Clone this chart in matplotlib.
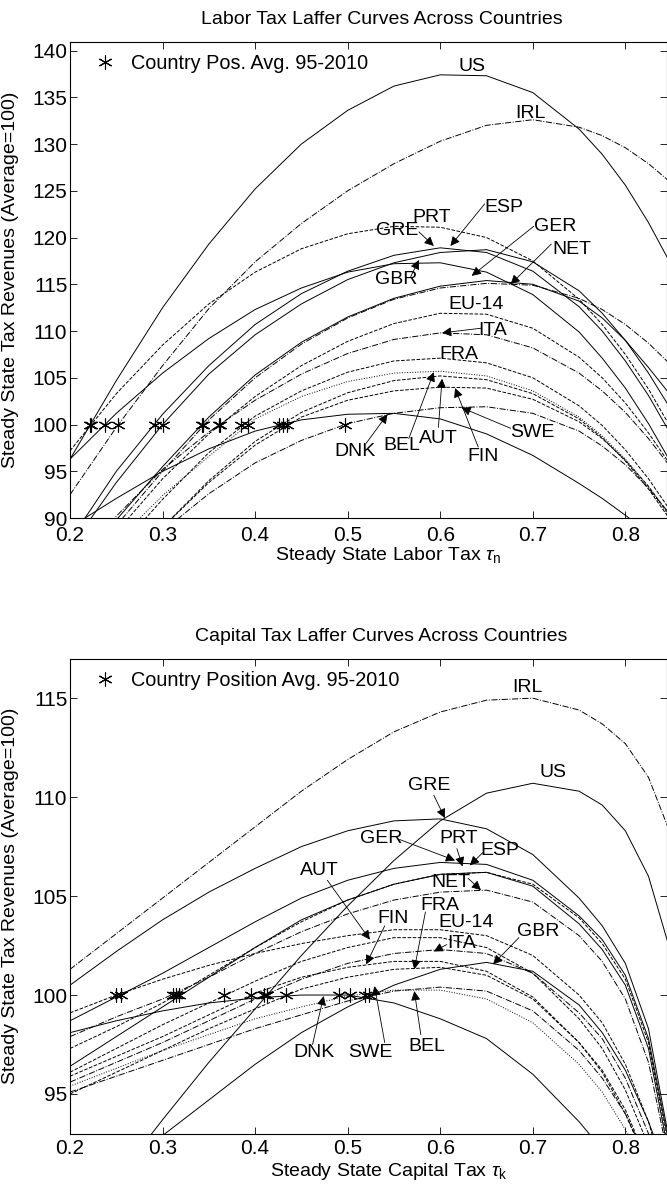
import matplotlib
matplotlib.use("Agg")
import matplotlib.pyplot as plt

plt.rcParams['font.family'] = ['Liberation Sans', 'DejaVu Sans']
plt.rcParams['mathtext.fontset'] = 'custom'
plt.rcParams['mathtext.rm'] = 'Liberation Sans'
plt.rcParams['mathtext.it'] = 'Liberation Sans:italic'

# common tax grid for every curve (denser where the curves fall steeply)
tau = [0.20, 0.25, 0.30, 0.35, 0.40, 0.45, 0.50, 0.55, 0.60, 0.65, 0.70,
       0.75, 0.775, 0.80, 0.825, 0.85]

countries = ['US', 'IRL', 'PRT', 'GRE', 'ESP', 'GBR', 'GER', 'NET',
             'EU-14', 'ITA', 'FRA', 'BEL', 'AUT', 'FIN', 'SWE', 'DNK']
styles = ['-', '-.', '--', '-', '-', '-', '-', '-.',
          '--', '-.', '--', ':', '--', '--', '-.', '-']

# labor tax laffer curves (revenues, average = 100)
labor_rev = {
    'US':    [96.3, 104.7, 112.5, 119.3, 125.2, 130.0, 133.6, 136.2, 137.4, 137.3, 135.5, 131.6, 128.9, 125.6, 121.6, 117.0],
    'IRL':   [92.5, 99.7, 106.3, 112.4, 117.4, 121.5, 125.0, 127.9, 130.3, 132.0, 132.6, 131.8, 130.9, 129.6, 127.9, 125.8],
    'PRT':   [97.2, 103.3, 108.5, 112.9, 116.3, 118.8, 120.4, 121.2, 121.1, 120.0, 117.5, 113.4, 110.7, 107.5, 103.8, 99.5],
    'GRE':   [87.6, 95.0, 101.1, 106.3, 110.7, 114.0, 116.4, 118.1, 118.9, 118.4, 116.4, 112.6, 110.0, 106.8, 103.1, 98.8],
    'ESP':   [86.8, 93.8, 100.0, 105.4, 109.6, 112.9, 115.5, 117.3, 118.4, 118.7, 117.4, 114.3, 111.9, 109.0, 105.5, 101.5],
    'GBR':   [96.3, 101.2, 105.5, 109.2, 112.3, 114.6, 116.3, 117.2, 117.3, 116.3, 113.9, 109.9, 107.1, 103.9, 100.1, 95.8],
    'GER':   [83.5, 89.8, 95.5, 100.8, 105.3, 108.8, 111.5, 113.5, 114.8, 115.4, 115.0, 113.2, 111.4, 109.0, 106.1, 103.0],
    'NET':   [83.0, 89.2, 95.0, 100.5, 105.0, 108.6, 111.4, 113.4, 114.6, 115.1, 114.9, 113.5, 112.3, 110.7, 108.7, 106.3],
    'EU-14': [82.0, 88.5, 94.2, 99.0, 103.0, 106.3, 108.9, 110.8, 111.9, 111.8, 110.3, 107.2, 105.0, 102.3, 99.1, 95.5],
    'ITA':   [84.5, 90.2, 95.2, 99.2, 102.6, 105.4, 107.6, 109.1, 109.8, 109.6, 108.2, 105.5, 103.6, 101.3, 98.5, 95.3],
    'FRA':   [80.0, 86.5, 92.0, 97.0, 100.9, 103.6, 105.6, 106.8, 107.1, 106.6, 105.0, 102.0, 99.9, 97.3, 94.2, 90.6],
    'BEL':   [82.0, 87.5, 92.4, 96.6, 100.6, 103.0, 104.6, 105.5, 105.7, 105.2, 103.6, 100.8, 98.8, 96.3, 93.3, 89.8],
    'AUT':   [77.0, 83.3, 89.0, 94.0, 98.2, 101.3, 103.4, 104.7, 105.2, 104.8, 103.3, 100.6, 98.6, 96.1, 93.1, 89.6],
    'FIN':   [77.5, 83.5, 89.0, 93.8, 97.8, 100.8, 102.6, 103.6, 104.0, 103.9, 102.7, 100.3, 98.5, 96.2, 93.4, 90.0],
    'SWE':   [78.0, 83.8, 88.6, 92.6, 95.9, 98.3, 100.1, 101.2, 101.8, 101.9, 101.2, 99.3, 97.7, 95.7, 93.2, 90.2],
    'DNK':   [89.0, 92.1, 95.0, 97.4, 99.3, 100.5, 101.1, 101.2, 100.6, 99.0, 96.7, 93.7, 92.1, 90.3, 88.4, 86.3],
}
labor_pos = [0.2215, 0.252, 0.2225, 0.2914, 0.3003, 0.2376, 0.3427, 0.3437,
             0.3605, 0.3615, 0.3846, 0.3918, 0.4301, 0.4347, 0.497, 0.4258]

# capital tax laffer curves
capital_rev = {
    'US':    [87.6, 90.7, 93.7, 96.6, 99.3, 102.0, 104.5, 106.8, 108.8, 110.2, 110.7, 110.3, 109.6, 108.3, 106.0, 102.0],
    'IRL':   [101.3, 103.1, 104.9, 106.7, 108.5, 110.3, 111.9, 113.3, 114.3, 114.9, 115.0, 114.4, 113.7, 112.7, 111.0, 108.0],
    'PRT':   [97.3, 98.4, 99.6, 101.0, 102.4, 103.7, 104.8, 105.6, 106.1, 106.2, 105.6, 103.9, 102.6, 100.8, 97.6, 91.5],
    'GRE':   [100.5, 102.2, 103.8, 105.2, 106.4, 107.5, 108.3, 108.8, 108.9, 108.4, 107.1, 104.9, 103.5, 101.6, 98.3, 92.0],
    'ESP':   [96.4, 97.9, 99.4, 100.9, 102.4, 103.8, 104.8, 105.6, 106.1, 106.2, 105.5, 103.6, 102.3, 100.5, 97.3, 91.2],
    'GBR':   [88.5, 90.8, 92.9, 94.7, 96.5, 98.1, 99.4, 100.5, 101.3, 101.65, 101.2, 99.5, 98.1, 96.2, 93.6, 90.5],
    'GER':   [98.7, 99.9, 101.1, 102.4, 103.7, 104.9, 105.8, 106.4, 106.7, 106.6, 105.8, 104.0, 102.8, 101.0, 97.8, 91.8],
    'NET':   [97.9, 98.9, 99.8, 100.9, 102.1, 103.2, 104.1, 104.8, 105.2, 105.3, 104.7, 103.0, 101.7, 99.8, 96.6, 91.0],
    'EU-14': [99.1, 100.0, 100.8, 101.5, 102.1, 102.6, 103.0, 103.3, 103.3, 103.0, 102.0, 100.0, 98.6, 96.5, 93.6, 89.5],
    'ITA':   [95.6, 96.6, 97.6, 98.7, 99.8, 100.8, 101.6, 102.1, 102.3, 102.1, 101.1, 99.1, 97.8, 95.8, 93.0, 89.0],
    'FRA':   [95.0, 96.1, 97.2, 98.3, 99.3, 100.3, 100.9, 101.3, 101.4, 101.0, 99.8, 97.6, 96.2, 94.2, 91.5, 87.5],
    'BEL':   [95.4, 96.3, 97.2, 98.0, 98.8, 99.4, 99.95, 100.25, 100.25, 99.8, 98.6, 96.5, 95.1, 93.2, 90.6, 87.0],
    'AUT':   [96.1, 97.3, 98.5, 99.6, 100.7, 101.7, 102.4, 102.9, 102.9, 102.4, 101.1, 98.8, 97.3, 95.2, 92.4, 88.5],
    'FIN':   [95.9, 96.9, 97.9, 99.0, 100.1, 100.9, 101.4, 101.7, 101.7, 101.2, 99.9, 97.6, 96.1, 94.0, 91.3, 87.5],
    'SWE':   [95.1, 95.9, 96.7, 97.5, 98.3, 99.0, 99.7, 100.2, 100.4, 100.2, 99.2, 97.2, 95.8, 94.0, 91.5, 88.0],
    'DNK':   [98.1, 98.7, 99.2, 99.6, 99.85, 100.0, 100.0, 99.6, 98.8, 97.8, 96.0, 93.6, 92.2, 90.6, 88.8, 87.0],
}
capital_pos = [0.413, 0.15, 0.314, 0.18, 0.318, 0.5226, 0.2556, 0.311,
               0.2502, 0.41, 0.433, 0.503, 0.3667, 0.3953, 0.519, 0.4903]

# labels: (text, text position, arrow tail, arrow head)
labor_labels = [
    ('US', (0.634, 138.3), None, None),
    ('IRL', (0.697, 133.3), None, None),
    ('PRT', (0.591, 122.1), None, None),
    ('GRE', (0.554, 120.7), (0.577, 120.6), (0.593, 119.1)),
    ('ESP', (0.669, 123.2), (0.648, 123.6), (0.611, 119.1)),
    ('GER', (0.724, 121.2), (0.701, 121.2), (0.634, 115.9)),
    ('NET', (0.742, 118.7), (0.72, 119.3), (0.676, 115.0)),
    ('GBR', (0.552, 115.5), (0.568, 115.8), (0.577, 117.6)),
    ('EU-14', (0.639, 112.8), None, None),
    ('ITA', (0.657, 110.1), (0.644, 110.3), (0.602, 109.8)),
    ('FRA', (0.62, 107.5), None, None),
    ('DNK', (0.508, 97.1), (0.52, 98.0), (0.543, 101.1)),
    ('BEL', (0.559, 97.8), (0.566, 98.5), (0.593, 105.6)),
    ('AUT', (0.598, 98.5), (0.598, 99.7), (0.602, 104.9)),
    ('FIN', (0.646, 96.6), (0.641, 97.6), (0.616, 103.9)),
    ('SWE', (0.699, 99.1), (0.676, 99.6), (0.623, 101.8)),
]
capital_labels = [
    ('IRL', (0.694, 115.55), None, None),
    ('US', (0.722, 111.26), None, None),
    ('GRE', (0.588, 110.6), (0.593, 110.1), (0.605, 108.94)),
    ('GER', (0.536, 107.9), (0.556, 107.86), (0.616, 106.8)),
    ('PRT', (0.62, 107.9), (0.618, 107.4), (0.624, 106.5)),
    ('ESP', (0.664, 107.3), (0.646, 107.2), (0.632, 106.55)),
    ('NET', (0.611, 105.7), (0.63, 105.9), (0.644, 105.3)),
    ('AUT', (0.469, 106.3), (0.478, 105.8), (0.524, 102.8)),
    ('FIN', (0.549, 103.85), (0.54, 103.5), (0.52, 101.55)),
    ('FRA', (0.60, 104.5), (0.584, 104.2), (0.572, 101.3)),
    ('EU-14', (0.628, 103.65), None, None),
    ('ITA', (0.623, 102.6), (0.607, 102.55), (0.593, 102.2)),
    ('GBR', (0.706, 103.2), (0.685, 102.9), (0.657, 101.55)),
    ('DNK', (0.464, 97.1), (0.462, 97.5), (0.474, 99.95)),
    ('SWE', (0.524, 97.1), (0.54, 97.6), (0.529, 100.45)),
    ('BEL', (0.586, 97.4), (0.579, 98.0), (0.572, 100.2)),
]

fig = plt.figure(figsize=(6.67, 11.86), dpi=100)
ax1 = fig.add_axes([0.105, 0.5632, 0.895, 0.4013])
ax2 = fig.add_axes([0.105, 0.0442, 0.895, 0.4005])

star = (6, 2, 0)


def draw_panel(ax, rev, pos, labels, title, xlabel, legend_text, ylim, yticks,
               xpad, xlabel_y):
    for c, ls in zip(countries, styles):
        ax.plot(tau, rev[c], color='k', ls=ls, lw=0.7)
    ax.plot(pos, [100] * len(pos), ls='none', marker=star, ms=10, mew=0.8,
            color='k', label=legend_text)
    for txt, tpos, tail, head in labels:
        ax.text(tpos[0], tpos[1], txt, ha='center', va='center', fontsize=14)
        if tail is not None:
            ax.annotate('', xy=head, xytext=tail,
                        arrowprops=dict(arrowstyle='-|>', lw=0.6, color='k',
                                        mutation_scale=14, shrinkA=0, shrinkB=0))
    ax.set_xlim(0.2, 0.845)
    ax.set_ylim(*ylim)
    ax.set_xticks([0.2, 0.3, 0.4, 0.5, 0.6, 0.7, 0.8])
    ax.set_xticklabels(['0.2', '0.3', '0.4', '0.5', '0.6', '0.7', '0.8'])
    ax.set_yticks(yticks)
    ax.tick_params(direction='in', top=True, right=True, length=5, width=0.6,
                   labelsize=15)
    ax.tick_params(axis='x', pad=xpad)
    ax.tick_params(axis='y', pad=2)
    for sp in ax.spines.values():
        sp.set_linewidth(0.8)
    ax.text(0.522, 1.047, title, transform=ax.transAxes, ha='center',
            va='center', fontsize=14)
    ax.set_xlabel(xlabel, fontsize=14)
    ax.xaxis.set_label_coords(0.533, xlabel_y)
    ax.set_ylabel('Steady State Tax Revenues (Average=100)', fontsize=14)
    ax.yaxis.set_label_coords(-0.085, 0.5)
    ax.legend(loc='upper left', bbox_to_anchor=(0.022, 1.0), frameon=False,
              fontsize=14.3, handlelength=1.0, handletextpad=0.8,
              borderaxespad=0.2, numpoints=1)


draw_panel(ax1, labor_rev, labor_pos, labor_labels,
           'Labor Tax Laffer Curves Across Countries',
           r'Steady State Labor Tax $\tau_{\mathrm{n}}$',
           'Country Pos. Avg. 95-2010', (90, 140.9),
           [90, 95, 100, 105, 110, 115, 120, 125, 130, 135, 140], 6, -0.057)
draw_panel(ax2, capital_rev, capital_pos, capital_labels,
           'Capital Tax Laffer Curves Across Countries',
           r'Steady State Capital Tax $\tau_{\mathrm{k}}$',
           'Country Position Avg. 95-2010', (93.0, 117.0),
           [95, 100, 105, 110, 115], 4, -0.058)

fig.savefig('out.png', dpi=100)
